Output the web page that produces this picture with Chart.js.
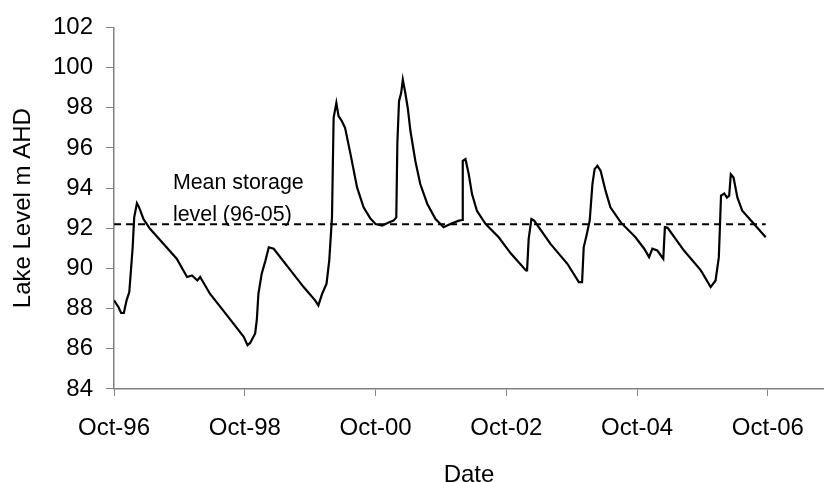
<!DOCTYPE html>
<html>
<head>
<meta charset="utf-8">
<script src="https://cdn.jsdelivr.net/npm/chart.js@4.4.1/dist/chart.umd.min.js"></script>
<style>
  html, body { margin: 0; padding: 0; background: #ffffff; }
  #wrap { width: 824px; height: 482px; }
</style>
</head>
<body>
<div id="wrap"><canvas id="myChart" width="824" height="482"></canvas></div>
<script>
// months counted from Oct-96
const months = [
    0, 0.8, 1.3, 1.8, 2.3, 2.8, 3.1, 3.4, 3.7, 4.2, 4.6, 5.4, 6.6, 9.1, 11.5,
    13.4, 14.3, 15.3, 15.8, 17.6, 20.7, 23.8, 24.5, 25.0, 25.9, 26.2, 26.5, 27.1,
    27.8, 28.4, 29.3, 32.4, 34.8, 36.9, 37.5, 38.2, 39.0, 39.5, 40.0, 40.3, 40.8,
    41.2, 41.8, 42.4, 43.4, 44.6, 45.8, 47.0, 48.0, 49.2, 50.4, 51.3, 51.8, 52.0,
    52.3, 52.7, 53.0, 53.4, 53.9, 54.4, 55.3, 56.2, 57.5, 59.0, 60.5, 61.7, 63.3,
    63.9, 64.0, 64.5, 65.1, 65.7, 66.6, 68.2, 70.6, 72.8, 75.6, 75.8, 76.1, 76.6,
    77.1, 80.1, 83.2, 85.3, 85.9, 86.2, 86.7, 87.3, 87.8, 88.2, 88.7, 89.3, 90.2,
    91.1, 93.0, 95.7, 97.3, 98.2, 98.8, 99.7, 100.8, 101.1, 101.6, 104.6, 107.7,
    109.5, 110.4, 111.0, 111.4, 112.0, 112.5, 112.9, 113.2, 113.7, 114.4, 115.3,
    116.9, 119.6
];
const levels = [
    88.41, 88.08, 87.78, 87.78, 88.41, 88.82, 89.9, 90.98, 92.54, 93.24, 93.04, 92.46, 91.97, 91.22, 90.48,
    89.57, 89.65, 89.40, 89.57, 88.74, 87.67, 86.59, 86.18, 86.3, 86.76, 87.42, 88.74, 89.74,
    90.40, 91.05, 90.98, 89.90, 89.07, 88.41, 88.16, 88.74, 89.24, 90.40, 92.54, 97.50, 98.24,
    97.58, 97.34, 97.0, 95.69, 94.03, 93.04, 92.50, 92.21, 92.13, 92.29, 92.38, 92.54, 96.26,
    98.33, 98.74, 99.40, 98.82, 98.0, 96.84, 95.35, 94.20, 93.21, 92.46, 92.05, 92.21, 92.38,
    92.41, 95.35, 95.44, 94.69, 93.70, 92.87, 92.21, 91.55, 90.75, 89.90, 89.90, 91.47, 92.46,
    92.38, 91.22, 90.23, 89.32, 89.32, 91.05, 91.63, 92.38, 94.20, 94.94, 95.11, 94.86, 93.87,
    93.04, 92.29, 91.55, 90.98, 90.56, 90.98, 90.89, 90.48, 92.05, 92.02, 90.89, 89.90,
    89.07, 89.40, 90.56, 93.62, 93.73, 93.53, 93.62, 94.69, 94.53, 93.53, 92.87,
    92.38, 91.55
];
const tickMonths = [0, 24, 48, 72, 96, 120];
const tickLabels = ['Oct-96', 'Oct-98', 'Oct-00', 'Oct-02', 'Oct-04', 'Oct-06'];
const meanLevel = 92.2;
const meanSpan = [0, 119.6];
const meanLabel = ['Mean storage', 'level (96-05)'];
const meanLabelAt = { month: 10.8, level: 92.35 };

const lakeData = months.map((m, i) => ({ x: m, y: levels[i] }));
const meanData = meanSpan.map((m) => ({ x: m, y: meanLevel }));

const textPlugin = {
    id: 'meanText',
    afterDatasetsDraw(chart) {
        const ctx = chart.ctx;
        const x = chart.scales.x.getPixelForValue(meanLabelAt.month);
        const y = chart.scales.y.getPixelForValue(meanLabelAt.level);
        ctx.save();
        ctx.font = '21.4px "Liberation Sans", Arial, sans-serif';
        ctx.fillStyle = '#000';
        ctx.textBaseline = 'alphabetic';
        ctx.fillText(meanLabel[0], x, y - 32);
        ctx.fillText(meanLabel[1], x, y);
        ctx.restore();
    }
};

const axisFont = { family: '"Liberation Sans", Arial, sans-serif', size: 24 };

new Chart(document.getElementById('myChart'), {
    type: 'line',
    data: {
        datasets: [{
            label: 'Lake level',
            data: lakeData,
            borderColor: '#000',
            borderWidth: 2.2,
            pointRadius: 0,
            tension: 0
        }, {
            label: 'Mean',
            data: meanData,
            borderColor: '#000',
            borderWidth: 2,
            borderDash: [7, 5],
            pointRadius: 0
        }]
    },
    options: {
        responsive: false,
        animation: false,
        layout: { padding: { left: 4, top: 26, right: 0, bottom: -7.5 } },
        plugins: { legend: { display: false }, tooltip: { enabled: false } },
        scales: {
            x: {
                type: 'linear',
                min: 0,
                max: 130.3,
                afterBuildTicks: (scale) => {
                    scale.ticks = tickMonths.map((v) => ({ value: v }));
                },
                ticks: {
                    color: '#000',
                    font: axisFont,
                    padding: 18,
                    maxRotation: 0,
                    callback: (v) => tickLabels[tickMonths.indexOf(v)]
                },
                grid: { drawOnChartArea: false, tickLength: 7, color: '#808080' },
                border: { color: '#808080', width: 1.5 },
                title: { display: true, text: 'Date', color: '#000', font: axisFont, padding: { top: 0, bottom: 0 } }
            },
            y: {
                min: 84,
                max: 102,
                ticks: { stepSize: 2, color: '#000', font: axisFont, padding: 13 },
                grid: { drawOnChartArea: false, tickLength: 8, color: '#808080' },
                border: { color: '#808080', width: 1.5 },
                title: { display: true, text: 'Lake Level m AHD', color: '#000', font: axisFont, padding: { top: 4.6, bottom: 2.6 } }
            }
        }
    },
    plugins: [textPlugin]
});
</script>
</body>
</html>
